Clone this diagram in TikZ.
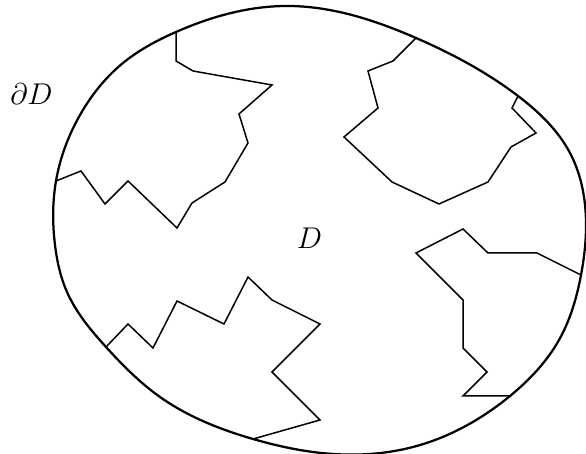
\documentclass[tikz,border=0pt]{standalone}
\usetikzlibrary{hobby}
\begin{document}
\begin{tikzpicture}[scale=0.703, every node/.style={font=\large}]
    % Fix picture size
    \useasboundingbox (0,0) rectangle (11.72,9.08);

    % Line widths
    \def\boundaryWidth{0.9pt}
    \def\cutWidth{0.6pt}

    % End points of the cuts on the boundary
    \coordinate (a0) at (3.52,8.44);
    \coordinate (a12) at (1.12,5.46);
    \coordinate (b0) at (8.32,8.32);
    \coordinate (b11) at (10.36,7.16);
    \coordinate (c0) at (2.12,2.14);
    \coordinate (c10) at (5.06,0.30);
    \coordinate (e0) at (11.62,3.58);
    \coordinate (e9) at (10.20,1.16);

    % Draw boundary
    \draw[line width=\boundaryWidth] plot[closed hobby] coordinates {
        (5.74,8.96) (b0) (b11) (11.40,6.02) (11.72,4.64) (e0)
        (11.18,2.28) (e9) (8.26,0.14) (6.26,0.04) (c10) (3.20,1.14)
        (c0) (1.34,3.24) (1.10,4.18) (a12) (1.60,6.78) (2.46,7.82) (a0)};

    % Draw cuts
    \draw[line width=\cutWidth] (a0) -- (3.52,7.86) -- (3.86,7.66) -- (5.44,7.38)
        -- (4.78,6.80) -- (4.96,6.22) -- (4.50,5.44) -- (3.84,5.02) -- (3.54,4.52)
        -- (2.56,5.46) -- (2.10,5.00) -- (1.62,5.66) -- (a12);
    \draw[line width=\cutWidth] (b0) -- (7.86,7.86) -- (7.36,7.66) -- (7.56,6.92)
        -- (6.88,6.34) -- (7.84,5.44) -- (8.78,5.00) -- (9.76,5.44) -- (10.22,6.14)
        -- (10.72,6.42) -- (10.24,6.92) -- (b11);
    \draw[line width=\cutWidth] (c0) -- (2.56,2.60) -- (3.06,2.12) -- (3.54,3.06)
        -- (4.48,2.60) -- (4.96,3.54) -- (5.44,3.08) -- (6.40,2.60) -- (5.44,1.64)
        -- (6.40,0.68) -- (c10);
    \draw[line width=\cutWidth] (e0) -- (10.74,4.02) -- (9.76,4.02) -- (9.26,4.50)
        -- (8.32,4.02) -- (9.26,3.08) -- (9.26,2.12) -- (9.74,1.64) -- (9.26,1.16)
        -- (e9);

    % Labels
    \node (boundaryLabel) at (0.63,7.19) {$\partial D$};
    \node (domainLabel) at (6.19,4.31) {$D$};
\end{tikzpicture}
\end{document}
